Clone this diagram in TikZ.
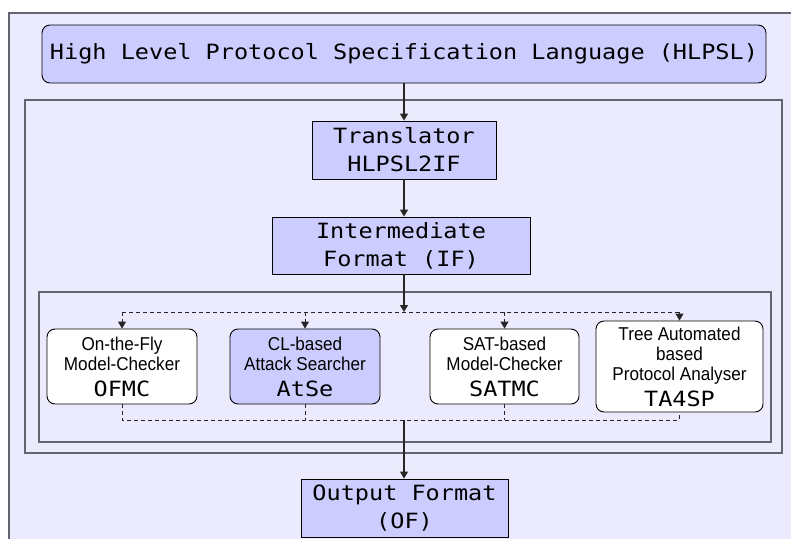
\documentclass[tikz,border=0pt]{standalone}
\usepackage{fontspec}
\usetikzlibrary{arrows.meta}
\newfontfamily\monof[FakeStretch=1.12]{DejaVu Sans Mono}
\newfontfamily\sansf[FakeStretch=0.92]{Liberation Sans}
\definecolor{bgc}{RGB}{235,235,253}
\definecolor{boxc}{RGB}{204,204,255}
\definecolor{framec}{RGB}{100,100,110}
\tikzset{
  monobox/.style={draw=black, line width=0.9pt, fill=boxc, align=center, inner sep=0pt,
    font=\monof\fontsize{21}{28}\selectfont},
  toolbox/.style={draw=black, line width=0.9pt, rounded corners=8pt, align=center, inner sep=0pt,
    font=\sansf\fontsize{18.6}{20}\selectfont},
  frame/.style={draw=framec, line width=1.4pt},
  arr/.style={draw=black!85, line width=1.2pt, -{Triangle[length=7pt,width=8pt]}},
  dline/.style={draw=black!85, line width=1pt, dash pattern=on 4pt off 3pt},
  darr/.style={dline, -{Triangle[length=7pt,width=8pt]}},
}
\begin{document}
\begin{tikzpicture}[x=1pt,y=-1pt]
\useasboundingbox (0,0) rectangle (791,538);
\clip (0,0) rectangle (791,538);
\fill[white] (0,0) rectangle (791,538);
\draw[fill=bgc, draw=framec, line width=1.2pt] (9,13) rectangle (820,560);
\draw[frame] (25,100) rectangle (782,453);
\draw[frame] (39,292) rectangle (771,442);

\node[monobox, rounded corners=8pt, minimum width=724pt, minimum height=58pt] (hlpsl) at (404,54)
  {High Level Protocol Specification Language (HLPSL)};
\node[monobox, minimum width=184pt, minimum height=58pt] (trans) at (404,150)
  {Translator\\HLPSL2IF};
\node[monobox, minimum width=258pt, minimum height=57pt] (if) at (401,245.5)
  {Intermediate\\Format (IF)};

\node[toolbox, fill=white, minimum width=150pt, minimum height=75pt] (ofmc) at (122,366.5)
  {On-the-Fly\\Model-Checker\\[6pt]{\monof\fontsize{21}{20}\selectfont OFMC}};
\node[toolbox, fill=boxc, minimum width=150pt, minimum height=75pt] (atse) at (305,366.5)
  {CL-based\\Attack Searcher\\[6pt]{\monof\fontsize{21}{20}\selectfont AtSe}};
\node[toolbox, fill=white, minimum width=149pt, minimum height=75pt] (satmc) at (504.5,366.5)
  {SAT-based\\Model-Checker\\[6pt]{\monof\fontsize{21}{20}\selectfont SATMC}};
\node[toolbox, fill=white, minimum width=167pt, minimum height=91pt] (ta4sp) at (679.5,366.5)
  {Tree Automated\\based\\Protocol Analyser\\[6pt]{\monof\fontsize{21}{20}\selectfont TA4SP}};

\node[monobox, minimum width=207pt, minimum height=58pt] (of) at (404.5,508)
  {Output Format\\(OF)};

\coordinate (split) at (404,312);
\coordinate (merge) at (404,420);

\draw[arr] (hlpsl.south) -- (trans.north);
\draw[arr] (trans.south) -- (trans.south |- if.north);
\draw[arr] (trans.south |- if.south) -- (split);

\draw[dline] (ofmc.north |- split) -- (ta4sp.north |- split);
\draw[darr] (ofmc.north |- split) -- (ofmc.north);
\draw[darr] (atse.north |- split) -- (atse.north);
\draw[darr] (satmc.north |- split) -- (satmc.north);
\draw[darr] (ta4sp.north |- split) -- (ta4sp.north);

\draw[dline] (ofmc.south) -- (ofmc.south |- merge) -- (ta4sp.south |- merge) -- (ta4sp.south);
\draw[dline] (atse.south) -- (atse.south |- merge);
\draw[dline] (satmc.south) -- (satmc.south |- merge);
\draw[arr] (merge) -- (merge |- of.north);
\end{tikzpicture}
\end{document}
